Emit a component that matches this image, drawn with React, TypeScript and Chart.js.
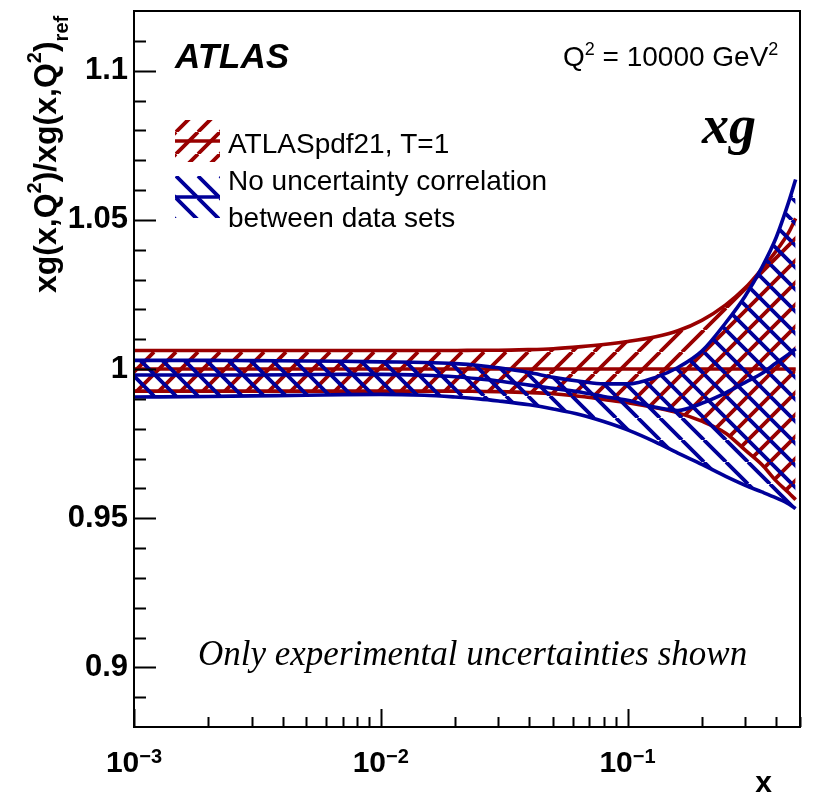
import React, { useEffect, useRef } from 'react';
import { Chart, registerables } from 'chart.js';

Chart.register(...registerables);

// ---------------- data ----------------
const xValues = [0.001, 0.002, 0.003, 0.005, 0.007, 0.01, 0.015, 0.02, 0.025, 0.03, 0.04, 0.05, 0.065, 0.08, 0.1, 0.13, 0.16, 0.2, 0.25, 0.3, 0.35, 0.4, 0.45, 0.48];

const redUpper = [1.0062, 1.0062, 1.0062, 1.0062, 1.0062, 1.0062, 1.0062, 1.0062, 1.0063, 1.0063, 1.0065, 1.0068, 1.0075, 1.0082, 1.0092, 1.0108, 1.0128, 1.0163, 1.0215, 1.0272, 1.0335, 1.0395, 1.0458, 1.0505];
const redCentral = [1, 1, 1, 1, 1, 1, 1, 1, 1, 1, 1, 1, 1, 1, 1, 1, 1, 1, 1, 1, 1, 1, 1, 1];
const redLower = [0.9926, 0.9926, 0.9926, 0.9926, 0.9926, 0.9926, 0.9926, 0.9926, 0.9925, 0.9924, 0.9921, 0.9917, 0.9908, 0.9898, 0.9887, 0.987, 0.9853, 0.9825, 0.9785, 0.9728, 0.968, 0.9625, 0.9585, 0.9562];

const blueUpper = [1.0029, 1.0029, 1.0028, 1.0027, 1.0026, 1.0024, 1.0022, 1.0018, 1.0012, 1.0004, 0.9988, 0.9972, 0.9958, 0.995, 0.995, 0.9972, 1.0005, 1.006, 1.0155, 1.0245, 1.034, 1.044, 1.056, 1.0635];
const blueCentral = [0.998, 0.998, 0.998, 0.9981, 0.9982, 0.9982, 0.9979, 0.9974, 0.9967, 0.996, 0.9946, 0.9935, 0.9922, 0.9908, 0.9895, 0.9872, 0.9861, 0.9885, 0.992, 0.9955, 0.9985, 1.002, 1.005, 1.0068];
const blueLower = [0.9906, 0.9908, 0.991, 0.9912, 0.9914, 0.9915, 0.9912, 0.9906, 0.99, 0.9893, 0.988, 0.9866, 0.9846, 0.9824, 0.9796, 0.9755, 0.9718, 0.968, 0.964, 0.961, 0.9588, 0.9568, 0.9548, 0.9532];

const yTickValues = [0.9, 0.95, 1, 1.05, 1.1];
const yTickLabels = ['0.9', '0.95', '1', '1.05', '1.1'];
const xDecades = [0.001, 0.01, 0.1];
const xDecadeExponents = ['\u22123', '\u22122', '\u22121'];

const legendLabels = ['ATLASpdf21, T=1', 'No uncertainty correlation', 'between data sets'];
const atlasLabel = 'ATLAS';
const xgLabel = 'xg';
const noteLabel = 'Only experimental uncertainties shown';
const xTitle = 'x';

const RED = '#990000';
const BLUE = '#000099';
const SANS = '"Liberation Sans", Arial, Helvetica, sans-serif';
const SERIF = '"Liberation Serif", "Times New Roman", serif';

function makeHatch(ctx: CanvasRenderingContext2D, color: string, dir: number, size = 22, lw = 3.8) {
  const c = document.createElement('canvas');
  c.width = size;
  c.height = size;
  const g = c.getContext('2d')!;
  g.strokeStyle = color;
  g.lineWidth = lw;
  g.beginPath();
  for (const o of [-size, 0, size]) {
    if (dir > 0) {
      g.moveTo(o, size);
      g.lineTo(o + size, 0);
    } else {
      g.moveTo(o, 0);
      g.lineTo(o + size, size);
    }
  }
  g.stroke();
  return ctx.createPattern(c, 'repeat')!;
}

type Part = { t: string; font: string; dy: number };
function drawRich(ctx: CanvasRenderingContext2D, parts: Part[], x: number, y: number) {
  let cx = x;
  for (const p of parts) {
    ctx.font = p.font;
    ctx.fillText(p.t, cx, y + p.dy);
    cx += ctx.measureText(p.t).width;
  }
  return cx - x;
}
function measureRich(ctx: CanvasRenderingContext2D, parts: Part[]) {
  let w = 0;
  for (const p of parts) {
    ctx.font = p.font;
    w += ctx.measureText(p.t).width;
  }
  return w;
}

export default function App() {
  const ref = useRef<HTMLCanvasElement>(null);

  useEffect(() => {
    document.body.style.margin = '0';
    const canvas = ref.current!;
    const ctx0 = canvas.getContext('2d')!;
    const redHatch = makeHatch(ctx0, RED, 1);
    const blueHatch = makeHatch(ctx0, BLUE, -1);

    const pts = (ys: number[]) => xValues.map((x, i) => ({ x, y: ys[i] }));
    const lineBase = {
      pointRadius: 0,
      borderWidth: 3.6,
      cubicInterpolationMode: 'monotone' as const,
      tension: 0.4,
    };

    const annot = {
      id: 'annot',
      afterDraw(chart: any) {
        const { ctx, chartArea: a, scales } = chart;
        const xs = scales.x;
        const ys = scales.y;
        ctx.save();
        ctx.fillStyle = '#000';
        ctx.strokeStyle = '#000';
        ctx.lineWidth = 2;
        ctx.lineCap = 'butt';
        // frame
        ctx.strokeRect(a.left, a.top, a.right - a.left, a.bottom - a.top);
        // y ticks (inward)
        ctx.beginPath();
        for (let i = 89; i <= 111; i++) {
          const py = Math.round(ys.getPixelForValue(i / 100)) + 0.5;
          const len = i % 5 === 0 ? 22 : 12;
          ctx.moveTo(a.left, py);
          ctx.lineTo(a.left + len, py);
        }
        // x ticks (inward)
        for (const d of xDecades) {
          for (let m = 1; m <= 9; m++) {
            const v = d * m;
            if (v > xs.max) break;
            const px = Math.round(xs.getPixelForValue(v)) + 0.5;
            const len = m === 1 ? 18 : 10;
            ctx.moveTo(px, a.bottom);
            ctx.lineTo(px, a.bottom - len);
          }
        }
        ctx.stroke();

        ctx.textBaseline = 'alphabetic';
        ctx.textAlign = 'left';
        // x tick labels
        xDecades.forEach((d, i) => {
          const parts: Part[] = [
            { t: '10', font: `bold 30px ${SANS}`, dy: 0 },
            { t: xDecadeExponents[i], font: `bold 20px ${SANS}`, dy: -9 },
          ];
          const w = measureRich(ctx, parts);
          const px = xs.getPixelForValue(d);
          drawRich(ctx, parts, px - w / 2, a.bottom + 45);
        });
        // x title
        ctx.font = `bold 30px ${SANS}`;
        ctx.textAlign = 'right';
        ctx.fillText(xTitle, 772, 792);
        ctx.textAlign = 'left';

        // y title (rotated)
        ctx.save();
        ctx.translate(56, 293);
        ctx.rotate(-Math.PI / 2);
        const big = `bold 32px ${SANS}`;
        const small = `bold 20px ${SANS}`;
        drawRich(ctx, [
          { t: 'xg(x,Q', font: big, dy: 0 },
          { t: '2', font: small, dy: -15 },
          { t: ')/xg(x,Q', font: big, dy: 0 },
          { t: '2', font: small, dy: -15 },
          { t: ')', font: big, dy: 0 },
          { t: 'ref', font: small, dy: 12 },
        ], 0, 0);
        ctx.restore();

        // ATLAS
        ctx.font = `italic bold 35px ${SANS}`;
        ctx.fillText(atlasLabel, 175, 68);
        // Q2 label
        drawRich(ctx, [
          { t: 'Q', font: `28px ${SANS}`, dy: 0 },
          { t: '2', font: `18px ${SANS}`, dy: -11 },
          { t: ' = 10000 GeV', font: `28px ${SANS}`, dy: 0 },
          { t: '2', font: `18px ${SANS}`, dy: -11 },
        ], 563, 66);
        // xg
        ctx.font = `italic bold 54px ${SERIF}`;
        ctx.fillText(xgLabel, 702, 143);

        // legend
        ctx.save();
        ctx.fillStyle = redHatch;
        ctx.fillRect(175, 120, 45, 42);
        ctx.fillStyle = blueHatch;
        ctx.fillRect(175, 176, 45, 42);
        ctx.restore();
        ctx.lineWidth = 3.6;
        ctx.strokeStyle = RED;
        ctx.beginPath();
        ctx.moveTo(175, 141);
        ctx.lineTo(220, 141);
        ctx.stroke();
        ctx.strokeStyle = BLUE;
        ctx.beginPath();
        ctx.moveTo(175, 197);
        ctx.lineTo(220, 197);
        ctx.stroke();
        ctx.fillStyle = '#000';
        ctx.font = `28px ${SANS}`;
        ctx.fillText(legendLabels[0], 228, 153);
        ctx.fillText(legendLabels[1], 228, 190);
        ctx.fillText(legendLabels[2], 228, 227);

        // note
        ctx.font = `italic 35px ${SERIF}`;
        ctx.fillText(noteLabel, 198, 665);
        ctx.restore();
      },
    };

    const chart = new Chart(canvas, {
      type: 'line',
      data: {
        datasets: [
          { ...lineBase, label: 'red lower', data: pts(redLower), borderColor: RED, fill: false, order: 2 },
          { ...lineBase, label: 'red central', data: pts(redCentral), borderColor: RED, fill: false, order: 2 },
          { ...lineBase, label: legendLabels[0], data: pts(redUpper), borderColor: RED, backgroundColor: redHatch as any, fill: { target: 0 }, order: 2 },
          { ...lineBase, label: 'blue lower', data: pts(blueLower), borderColor: BLUE, fill: false, order: 1 },
          { ...lineBase, label: 'blue central', data: pts(blueCentral), borderColor: BLUE, fill: false, order: 1 },
          { ...lineBase, label: legendLabels[1] + ' ' + legendLabels[2], data: pts(blueUpper), borderColor: BLUE, backgroundColor: blueHatch as any, fill: { target: 3 }, order: 1 },
        ],
      },
      options: {
        responsive: false,
        maintainAspectRatio: false,
        animation: false,
        layout: { padding: { left: 0, top: 11, right: 13, bottom: 0 } },
        plugins: {
          legend: { display: false },
          tooltip: { enabled: false },
          filler: { drawTime: 'beforeDatasetDraw' } as any,
        },
        scales: {
          x: {
            type: 'logarithmic',
            min: 0.001,
            max: 0.5,
            grid: { display: false, drawTicks: false },
            border: { display: false },
            ticks: { display: false },
            afterFit: (s: any) => {
              s.height = 66;
              s.paddingLeft = 0;
              s.paddingRight = 0;
            },
          },
          y: {
            type: 'linear',
            min: 0.88,
            max: 1.12,
            grid: { display: false, drawTicks: false },
            border: { display: false },
            afterBuildTicks: (s: any) => {
              s.ticks = yTickValues.map((v) => ({ value: v }));
            },
            ticks: {
              autoSkip: false,
              padding: 6,
              color: '#000',
              font: { family: SANS, size: 31, weight: 'bold' },
              callback: (v: any) => {
                const i = yTickValues.indexOf(Number(v));
                return i >= 0 ? yTickLabels[i] : '';
              },
            },
            afterFit: (s: any) => {
              s.width = 134;
              s.paddingTop = 0;
              s.paddingBottom = 0;
            },
          },
        },
      },
      plugins: [annot],
    });

    return () => chart.destroy();
  }, []);

  return (
    <div style={{ width: 813, height: 793 }}>
      <canvas ref={ref} width={813} height={793} style={{ display: 'block' }} />
    </div>
  );
}
